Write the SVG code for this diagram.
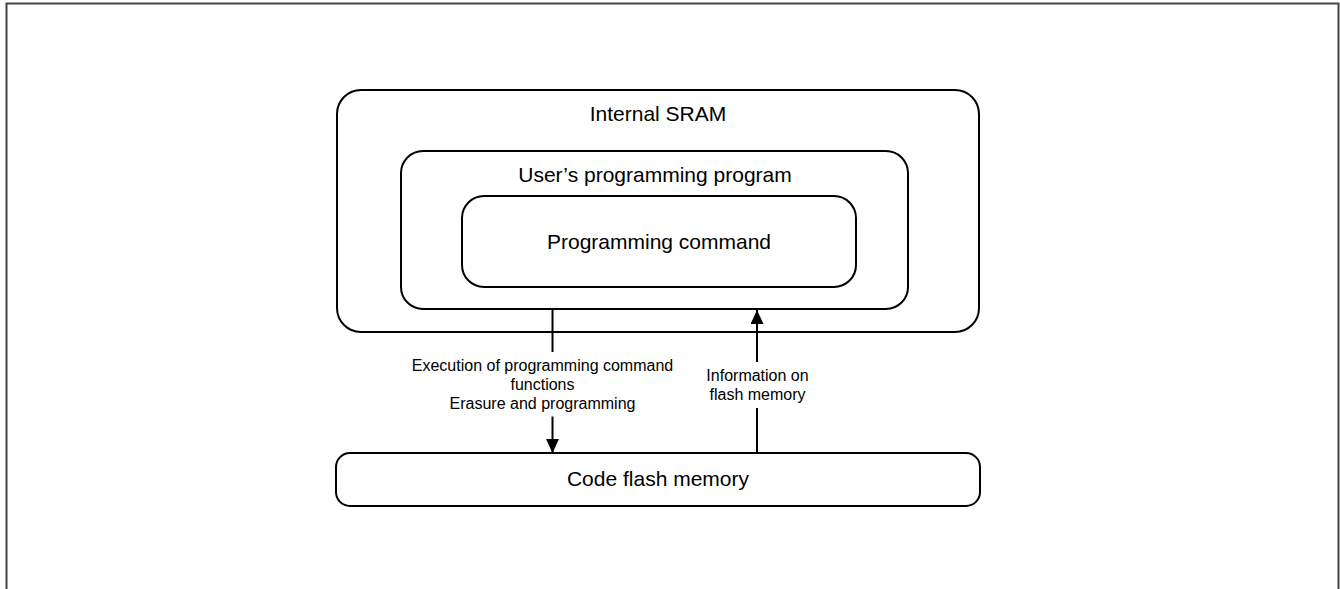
<svg xmlns="http://www.w3.org/2000/svg" width="1340" height="589" viewBox="0 0 1340 589">
<style>
.box{fill:#fff;stroke:#000;stroke-width:2}
.t{font-family:"Liberation Sans",Arial,sans-serif;font-size:21px;fill:#000;text-anchor:middle}
.l{font-family:"Liberation Sans",Arial,sans-serif;font-size:16px;fill:#000;text-anchor:middle}
.c{stroke:#000;stroke-width:2;fill:none}
</style>
<defs>
<marker id="ah" markerUnits="userSpaceOnUse" markerWidth="14" markerHeight="13" refX="14" refY="6.5" orient="auto">
<path d="M0,0 L14,6.5 L0,13 z" fill="#000"/>
</marker>
</defs>
<rect width="1340" height="589" fill="#fff"/>
<path d="M6.5,589 V3.5 H1338.5 V589" fill="none" stroke="#444" stroke-width="2"/>
<g id="internal-sram">
<rect class="box" x="337" y="90" width="642" height="242" rx="24"/>
<text class="t" x="658" y="121">Internal SRAM</text>
</g>
<g id="user-program">
<rect class="box" x="401" y="151" width="507" height="158" rx="22"/>
<text class="t" x="655" y="182">User’s programming program</text>
</g>
<g id="programming-command">
<rect class="box" x="462" y="196" width="394" height="91" rx="22"/>
<text class="t" x="659" y="249">Programming command</text>
</g>
<g id="code-flash">
<rect class="box" x="336" y="453" width="644" height="53" rx="14"/>
<text class="t" x="658" y="486">Code flash memory</text>
</g>
<g id="connectors">
<line class="c" x1="552.5" y1="309" x2="552.5" y2="352"/>
<line class="c" x1="552.5" y1="416.5" x2="552.5" y2="453" marker-end="url(#ah)"/>
<text class="l" x="542.5" y="371">Execution of programming command</text>
<text class="l" x="542.5" y="390">functions</text>
<text class="l" x="542.5" y="409">Erasure and programming</text>
<line class="c" x1="757" y1="453" x2="757" y2="408"/>
<line class="c" x1="757" y1="362" x2="757" y2="310" marker-end="url(#ah)"/>
<text class="l" x="757.5" y="381">Information on</text>
<text class="l" x="757.5" y="400">flash memory</text>
</g>
</svg>
